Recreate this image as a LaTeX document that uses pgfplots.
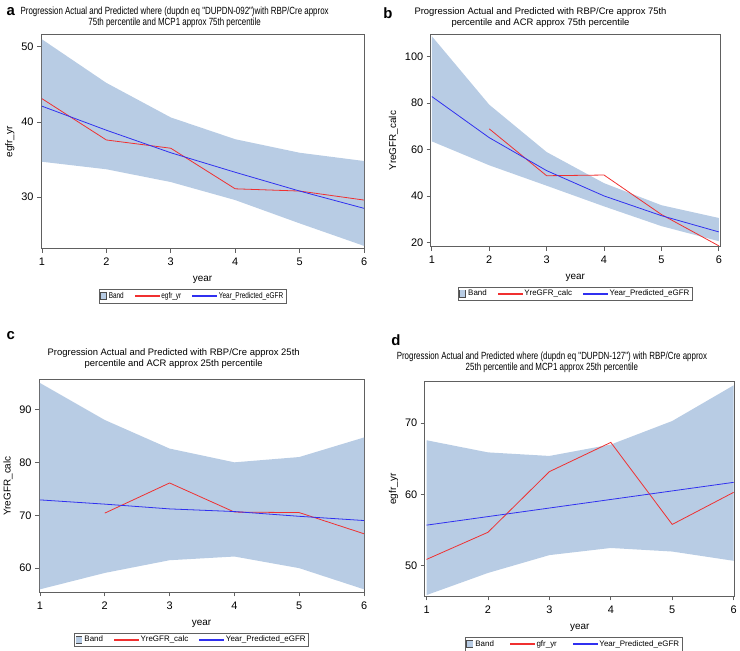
\documentclass[border=0pt]{standalone}
\usepackage{fontspec}
\setmainfont{Liberation Sans}
\newfontfamily\narrowfont{Liberation Sans}[FakeStretch=0.76]
\usepackage{pgfplots}
\pgfplotsset{compat=1.18}
\definecolor{bandblue}{HTML}{B8CCE4}
\definecolor{lred}{HTML}{F03030}
\definecolor{lblue}{HTML}{3030F0}
\definecolor{frame}{HTML}{606060}

\pgfplotsset{
  sasplot/.style={
    scale only axis,
    anchor=north west,
    axis line style={frame, line width=0.9pt},
    tick style={frame, line width=0.7pt},
    tick align=outside,
    xtick pos=left, ytick pos=left,
    major tick length=4pt,
    xtick={1,...,6},
    ticklabel style={font=\fontsize{11}{12}\selectfont},
    xticklabel style={yshift=-2pt},
    /pgf/number format/assume math mode=true,
    xlabel={year},
    label style={font=\fontsize{10}{11}\selectfont},
    xlabel style={yshift=-4pt},
    title style={font=\fontsize{9.5}{11}\selectfont, align=center, yshift=-2pt, xshift=-28pt},
    legend columns=3,
    legend style={font=\fontsize{8}{9}\selectfont, draw=frame, at={(0.5,-0.19)}, anchor=north,
      inner sep=1pt, /tikz/every even column/.append style={column sep=9pt}},
  },
  band/.style={fill=bandblue, draw=none,
    legend image code/.code={\fill[black!70] (-0.5pt,-4pt) rectangle (6.5pt,4pt);
      \fill[bandblue] (0.3pt,-3.2pt) rectangle (5.7pt,3.2pt);}},
  redline/.style={color=lred, line width=0.8pt, mark=none,
    legend image code/.code={\fill[lred] (0pt,-0.4pt) rectangle (24pt,0.4pt);}},
  blueline/.style={color=lblue, line width=0.8pt, mark=none,
    legend image code/.code={\fill[lblue] (0pt,-0.4pt) rectangle (24pt,0.4pt);}},
}

\begin{document}
\begin{tikzpicture}
\path (0pt,0pt) rectangle (740pt,654pt);

% a
\node[font=\bfseries\fontsize{15}{15}\selectfont, anchor=west] at (1pt,642pt) {a};
\begin{axis}[sasplot, at={(39pt,619pt)}, width=325pt, height=215pt,
    xmin=0.985, xmax=6.0, ymin=23.15, ymax=51.6, ytick={30,40,50},
    ylabel={egfr\_yr},
    legend style={font=\narrowfont\fontsize{8.5}{9}\selectfont, xshift=-10pt},
    title style={font=\narrowfont\fontsize{10.5}{11}\selectfont},
    title={Progression Actual and Predicted where (dupdn eq "DUPDN-092")with RBP/Cre approx\\75th percentile and MCP1 approx 75th percentile}]
\addplot[band] coordinates {(1,51.0) (2,45.2) (3,40.6) (4,37.7) (5,35.9) (6,34.8)
  (6,23.5) (5,26.5) (4,29.6) (3,32.0) (2,33.7) (1,34.7)} -- cycle;
\addplot[redline] coordinates {(1,43.1) (2,37.6) (3,36.5) (4,31.1) (5,30.8) (6,29.6)};
\addplot[blueline] coordinates {(1,42.1) (2,38.9) (3,35.9) (4,33.3) (5,30.8) (6,28.5)};
\legend{Band, egfr\_yr, Year\_Predicted\_eGFR}
\end{axis}

% b
\node[font=\bfseries\fontsize{15}{15}\selectfont, anchor=west] at (380pt,641pt) {b};
\begin{axis}[sasplot, at={(431pt,619pt)}, width=291pt, height=213pt,
    xmin=0.98, xmax=6.02, ymin=18.2, ymax=109.4, ytick={20,40,...,100},
    ylabel={YreGFR\_calc},
    title style={xshift=-7pt},
    title={Progression Actual and Predicted with RBP/Cre approx 75th\\percentile and ACR approx 75th percentile}]
\addplot[band] coordinates {(1,108.8) (2,79.3) (3,58.9) (4,45.5) (5,36.0) (6,30.5)
  (6,20.5) (5,27.0) (4,35.5) (3,44.4) (2,53.2) (1,63.5)} -- cycle;
\addplot[redline] coordinates {(2,68.9) (3,48.7) (4,49.0) (5,32.0) (6,18.5)};
\addplot[blueline] coordinates {(1,82.8) (2,65.1) (3,50.9) (4,40.0) (5,31.5) (6,24.5)};
\legend{Band, YreGFR\_calc, Year\_Predicted\_eGFR}
\end{axis}

% c
\node[font=\bfseries\fontsize{15}{15}\selectfont, anchor=west] at (1pt,316pt) {c};
\begin{axis}[sasplot, at={(37pt,272pt)}, width=327pt, height=214pt,
    xmin=0.985, xmax=6.0, ymin=55.4, ymax=95.6, ytick={60,70,80,90},
    ylabel={YreGFR\_calc},
    title style={yshift=4pt},
    legend style={xshift=-10pt},
    title={Progression Actual and Predicted with RBP/Cre approx 25th\\percentile and ACR approx 25th percentile}]
\addplot[band] coordinates {(1,95.0) (2,88.0) (3,82.6) (4,80.0) (5,81.0) (6,84.7)
  (6,56.0) (5,60.0) (4,62.2) (3,61.5) (2,59.1) (1,56.0)} -- cycle;
\addplot[redline] coordinates {(2,70.4) (3,76.1) (4,70.6) (5,70.5) (6,66.5)};
\addplot[blueline] coordinates {(1,72.9) (2,72.1) (3,71.2) (4,70.7) (5,69.8) (6,69.0)};
\legend{Band, YreGFR\_calc, Year\_Predicted\_eGFR}
\end{axis}

% d
\node[font=\bfseries\fontsize{15}{15}\selectfont, anchor=west] at (388pt,312pt) {d};
\begin{axis}[sasplot, at={(425pt,270pt)}, width=312pt, height=216pt,
    xmin=0.97, xmax=6.02, ymin=45.7, ymax=75.8, ytick={50,60,70},
    ylabel={egfr\_yr},
    title style={font=\narrowfont\fontsize{10.5}{11}\selectfont, yshift=2pt},
    legend style={xshift=-6pt, /tikz/every even column/.append style={column sep=14pt}},
    title={Progression Actual and Predicted where (dupdn eq "DUPDN-127") with RBP/Cre approx\\25th percentile and MCP1 approx 25th percentile}]
\addplot[band] coordinates {(1,67.6) (2,65.9) (3,65.4) (4,67.0) (5,70.3) (6,75.3)
  (6,50.7) (5,52.0) (4,52.5) (3,51.5) (2,49.0) (1,45.9)} -- cycle;
\addplot[redline] coordinates {(1,50.9) (2,54.7) (3,63.2) (4,67.3) (5,55.8) (6,60.3)};
\addplot[blueline] coordinates {(1,55.7) (2,56.9) (3,58.1) (4,59.3) (5,60.5) (6,61.7)};
\legend{Band, gfr\_yr, Year\_Predicted\_eGFR}
\end{axis}
\end{tikzpicture}
\end{document}
